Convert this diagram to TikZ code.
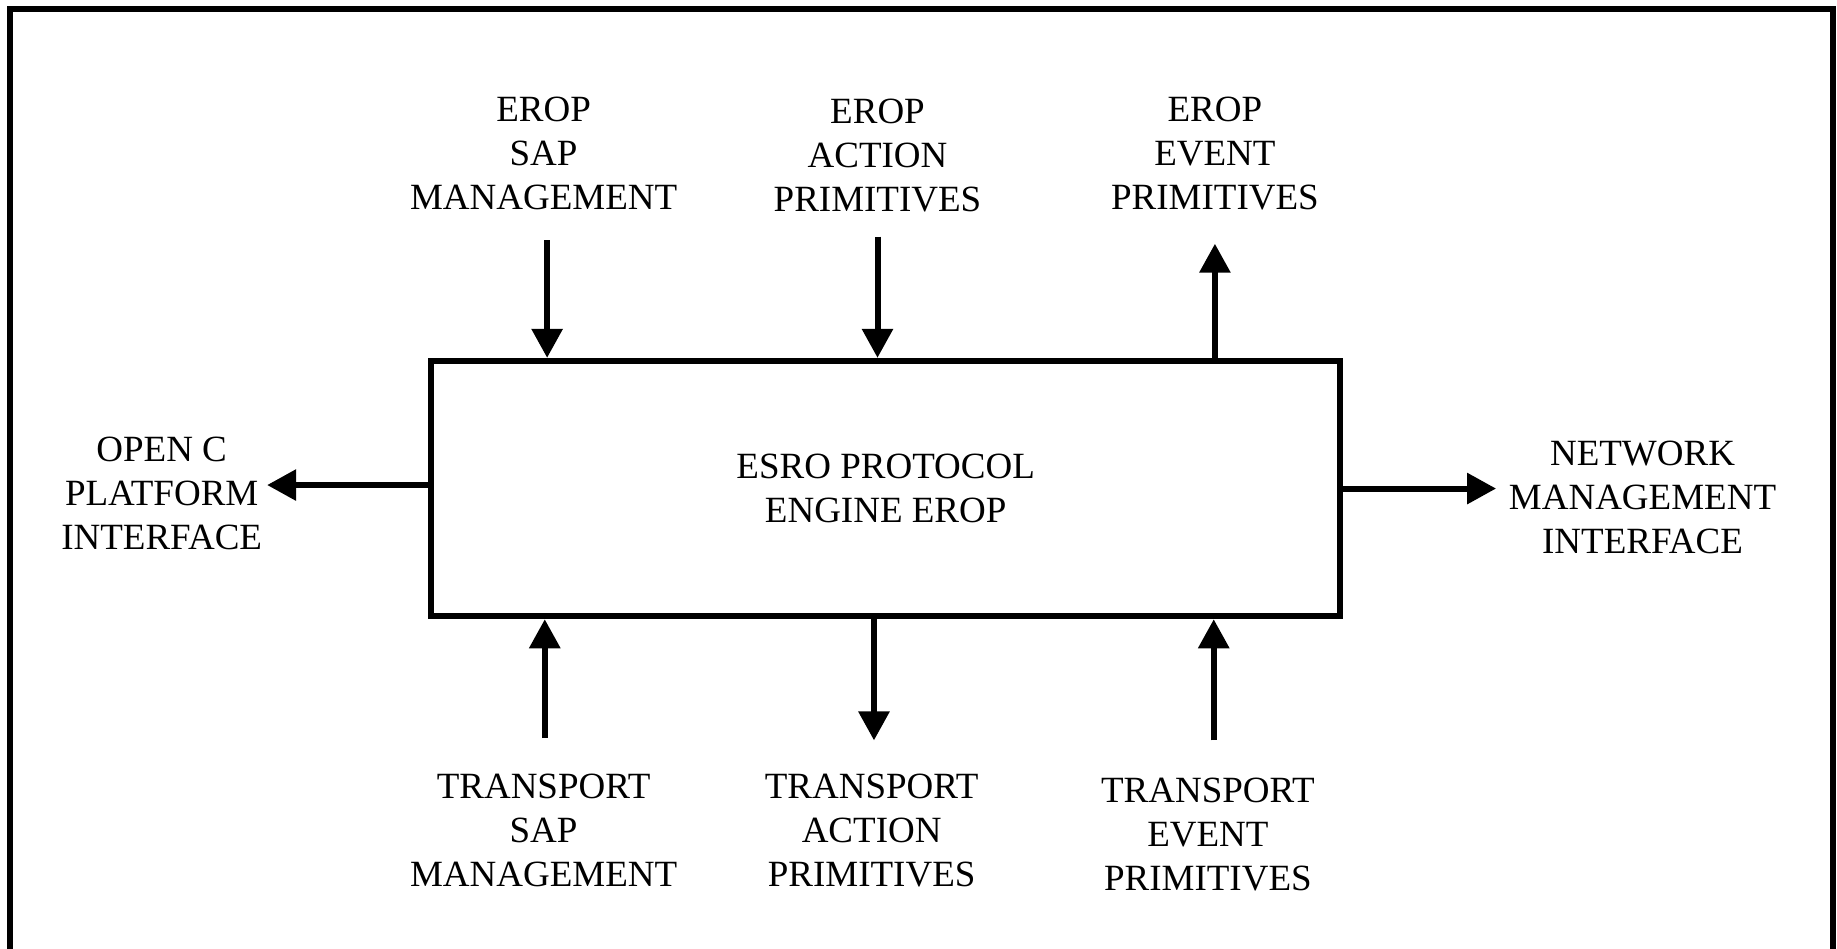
\documentclass[tikz,border=0pt]{standalone}
\usepackage{fontspec}
\setmainfont{Liberation Serif}
\usetikzlibrary{arrows.meta}
\begin{document}
\begin{tikzpicture}[x=0.5858pt,y=-0.5858pt,
  lbl/.style={align=center,font=\fontsize{18.5}{22}\selectfont,inner sep=0pt},
  arr/.style={line width=3pt,-{Triangle[length=14.5pt,width=15pt]}},
  framestyle/.style={line width=2.9pt},
  enginebox/.style={draw,line width=3pt,minimum width=454.6pt,minimum height=127.7pt,inner sep=0pt,align=center,font=\fontsize{18.5}{22}\selectfont}]
\useasboundingbox (0,0) rectangle (1568,810);
\draw[framestyle] (8.5,820) -- (8.5,7.4) -- (1564.5,7.4) -- (1564.5,820);
\node[enginebox] (engine) at (756,417) {ESRO PROTOCOL\\ENGINE EROP};
% labels
\node[lbl] (ls1) at (464,131) {EROP\\SAP\\MANAGEMENT};
\node[lbl] (ls2) at (749,133) {EROP\\ACTION\\PRIMITIVES};
\node[lbl] (ls3) at (1037,131) {EROP\\EVENT\\PRIMITIVES};
\node[lbl] (lopen) at (138,421) {OPEN C\\PLATFORM\\INTERFACE};
\node[lbl] (lnet) at (1402,425) {NETWORK\\MANAGEMENT\\INTERFACE};
\node[lbl] (lb1) at (464,709) {TRANSPORT\\SAP\\MANAGEMENT};
\node[lbl] (lb2) at (744,709) {TRANSPORT\\ACTION\\PRIMITIVES};
\node[lbl] (lb3) at (1031,712) {TRANSPORT\\EVENT\\PRIMITIVES};
% free ends
\coordinate (t1) at (467,205);
\coordinate (t2) at (749,202);
\coordinate (t3) at (1037,208);
\coordinate (b1) at (465,630);
\coordinate (b2) at (746,632);
\coordinate (b3) at (1036,632);
\coordinate (le) at (228,414);
\coordinate (re) at (1277,417);
% connectors
\draw[arr] (t1) -- (engine.north -| t1);
\draw[arr] (t2) -- (engine.north -| t2);
\draw[arr] (engine.north -| t3) -- (t3);
\draw[arr] (b1) -- (engine.south -| b1);
\draw[arr] (engine.south -| b2) -- (b2);
\draw[arr] (b3) -- (engine.south -| b3);
\draw[arr] (engine.west |- le) -- (le);
\draw[arr] (engine.east |- re) -- (re);
\end{tikzpicture}
\end{document}
